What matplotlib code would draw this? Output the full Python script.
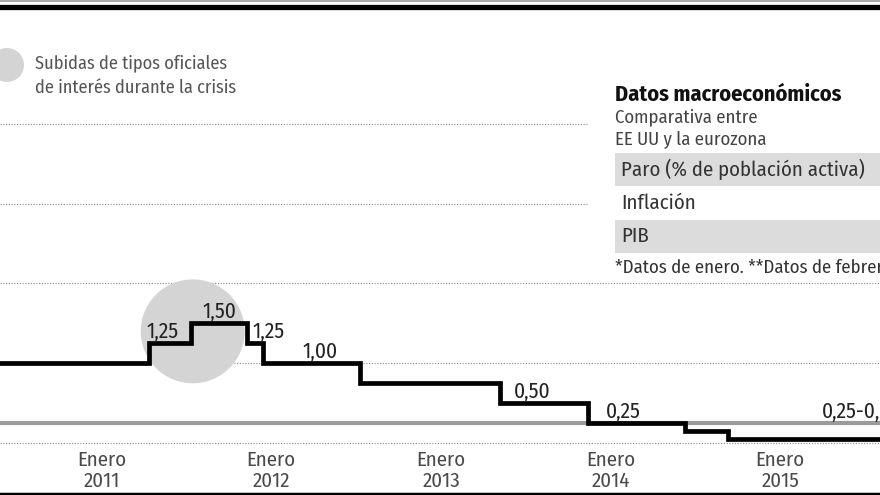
import datetime as dt
import matplotlib
matplotlib.use("Agg")
import matplotlib.pyplot as plt
from matplotlib import font_manager
from matplotlib.lines import Line2D
from matplotlib.patches import Rectangle

# pick a narrow font if there is one
names = set(f.name for f in font_manager.fontManager.ttflist)
FONT = "DejaVu Sans"
for cand in ["Fira Sans Condensed", "Asap Condensed", "Liberation Sans Narrow"]:
    if cand in names:
        FONT = cand
        break
plt.rcParams["font.family"] = [FONT, "DejaVu Sans"]
plt.rcParams["font.stretch"] = "condensed"

# tipo oficial del BCE (fechas de cambio)
ecb_dates = ["2010-05-27", "2011-04-13", "2011-07-13", "2011-11-09", "2011-12-14",
             "2012-07-11", "2013-05-08", "2013-11-13", "2014-06-11", "2014-09-10",
             "2015-08-04"]
ecb_rates = [1.00, 1.25, 1.50, 1.25, 1.00, 0.75, 0.50, 0.25, 0.15, 0.05, 0.05]

# Reserva Federal
fed_dates = ["2010-05-27", "2015-08-04"]
fed_rates = [0.25, 0.25]

# etiquetas de valores
label_texts = ["1,25", "1,50", "1,25", "1,00", "0,50", "0,25", "0,25-0,50"]
label_dates = ["2011-05-12", "2011-09-12", "2011-12-26", "2012-04-16", "2013-07-17",
               "2014-01-29", "2015-03-31"]
label_levels = [1.25, 1.50, 1.25, 1.00, 0.50, 0.25, 0.25]
label_align = ["center", "center", "center", "center", "center", "center", "left"]

tick_dates = ["2011-01-01", "2012-01-01", "2013-01-01", "2014-01-01", "2015-01-01"]
tick_labels = ["Enero\n2011", "Enero\n2012", "Enero\n2013", "Enero\n2014", "Enero\n2015"]

grid_levels = [0, 1, 2, 3, 4]

crisis_date = "2011-07-16"
crisis_level = 1.40

table_rows = ["Paro (% de población activa)", "Inflación", "PIB"]
table_shaded = [True, False, True]

def d(s):
    return dt.datetime.strptime(s, "%Y-%m-%d")

fig = plt.figure(figsize=(8.8, 4.95), dpi=100)
ax = fig.add_axes([0, 0, 1, 1])
ax.set_xlim(d("2010-05-27"), d("2015-08-04"))
ax.set_ylim(-0.65, 5.55)
ax.axis("off")

grey_txt = "#4a4a4a"

# rejilla punteada
for g in grid_levels:
    xmax = 587 / 880 if g >= 3 else 1
    ax.axhline(g, xmin=0, xmax=xmax, color="#9a9a9a", lw=0.9, ls=(0, (1, 1.2)), zorder=1)

# circulo de subidas
ax.scatter([d(crisis_date)], [crisis_level], s=5600, color="#d4d4d4", edgecolors="none", zorder=2)

# Fed
ax.plot([d(x) for x in fed_dates], fed_rates, color="#9b9b9b", lw=3, zorder=3,
        solid_capstyle="butt")
# BCE
ax.step([d(x) for x in ecb_dates], ecb_rates, where="post", color="black", lw=3.4,
        zorder=4, solid_joinstyle="miter")

for t, x, lev, ha in zip(label_texts, label_dates, label_levels, label_align):
    ax.annotate(t, (d(x), lev), xytext=(0, 3.8), textcoords="offset points",
                ha=ha, va="baseline", fontsize=15.5, color="#222222", zorder=5)

for x, t in zip(tick_dates, tick_labels):
    ax.text(d(x), -0.09, t, ha="center", va="top", fontsize=15, color=grey_txt,
            linespacing=1.08)

# leyenda
ax.scatter([7 / 880], [1 - 65 / 495], s=600, color="#d4d4d4", edgecolors="none",
           transform=ax.transAxes, clip_on=False)
ax.text(35 / 880, 1 - 54 / 495, "Subidas de tipos oficiales\nde interés durante la crisis",
        transform=ax.transAxes, ha="left", va="top", fontsize=13.2, color="#555555",
        linespacing=1.5)

# panel derecho
ax.text(615 / 880, 1 - 95 / 495, "Datos macroeconómicos", transform=ax.transAxes,
        ha="left", va="center", fontsize=16, fontweight="bold", color="#111111")
ax.text(615 / 880, 1 - 108 / 495, "Comparativa entre\nEE UU y la eurozona",
        transform=ax.transAxes, ha="left", va="top", fontsize=13.5, color="#444444",
        linespacing=1.3)
row_tops = [153, 187, 220]
row_h = 33
for (name, shaded, top) in zip(table_rows, table_shaded, row_tops):
    if shaded:
        ax.add_patch(Rectangle((615 / 880, 1 - (top + row_h) / 495), 1, row_h / 495,
                               transform=ax.transAxes, color="#dcdcdc", lw=0, zorder=1))
    ax.text(621 / 880, 1 - (top + row_h / 2) / 495, name, transform=ax.transAxes,
            ha="left", va="center", fontsize=15, color="#333333", zorder=2)
ax.text(615 / 880, 1 - 268 / 495, "*Datos de enero. **Datos de febrero.",
        transform=ax.transAxes, ha="left", va="center", fontsize=13.5, color="#333333")

# marco superior e inferior
fig.add_artist(Line2D([0, 1], [1 - 1 / 495, 1 - 1 / 495], color="#999999", lw=1.2))
fig.add_artist(Line2D([0, 1], [1 - 6.5 / 495, 1 - 6.5 / 495], color="black", lw=3.8))
fig.add_artist(Line2D([0, 1], [1.5 / 495, 1.5 / 495], color="black", lw=2.5))

fig.savefig("out.png", dpi=100)
